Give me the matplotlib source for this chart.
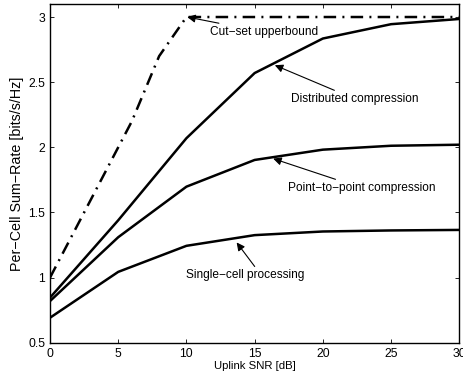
import matplotlib
matplotlib.use("Agg")
import matplotlib.pyplot as plt
import numpy as np

plt.rcParams['font.family'] = ['Liberation Sans', 'DejaVu Sans']

# data
snr_cut = [0, 2, 4, 6, 8, 10, 15, 20, 25, 30]
cut_set = [1.0, 1.4, 1.8, 2.2, 2.7, 3.0, 3.0, 3.0, 3.0, 3.0]

snr = [0, 5, 10, 15, 20, 25, 30]
distributed = [0.846, 1.44, 2.07, 2.57, 2.835, 2.945, 2.985]
point_to_point = [0.82, 1.31, 1.698, 1.903, 1.982, 2.012, 2.02]
single_cell = [0.692, 1.044, 1.244, 1.326, 1.354, 1.362, 1.366]

xticks = [0, 5, 10, 15, 20, 25, 30]
yticks = [0.5, 1, 1.5, 2, 2.5, 3]

fig = plt.figure(figsize=(4.63, 3.80), dpi=100)
ax = fig.add_axes([0.108, 0.098, 0.884, 0.8915])

ax.plot(snr_cut, cut_set, color='k', lw=1.8, linestyle=(0, (5, 2.5, 0.8, 2.5)))
ax.plot(snr, distributed, color='k', lw=1.8)
ax.plot(snr, point_to_point, color='k', lw=1.8)
ax.plot(snr, single_cell, color='k', lw=1.8)

ax.set_xlim(0, 30)
ax.set_ylim(0.5, 3.1)
ax.set_xticks(xticks)
ax.set_xticklabels([str(t) for t in xticks])
ax.set_yticks(yticks)
ax.set_yticklabels(['0.5', '1', '1.5', '2', '2.5', '3'])
ax.tick_params(direction='in', top=True, right=True, labelsize=8.8, length=3, width=0.6)
for s in ax.spines.values():
    s.set_linewidth(1.0)

ax.set_xlabel('Uplink SNR [dB]', fontsize=8.2, labelpad=1)
ax.set_ylabel('Per\u2212Cell Sum\u2212Rate [bits/s/Hz]', fontsize=10.3, labelpad=3)

fs = 8.6
arrow = dict(arrowstyle='-|>', color='k', lw=0.8, mutation_scale=12,
             shrinkA=0, shrinkB=0)
ax.annotate('Cut\u2212set upperbound', xy=(10.06, 3.0), xytext=(11.7, 2.885),
            fontsize=fs, ha='left', va='center', arrowprops=arrow)
ax.annotate('Distributed compression', xy=(16.48, 2.63), xytext=(17.7, 2.37),
            fontsize=fs, ha='left', va='center', arrowprops=arrow)
ax.annotate('Point\u2212to\u2212point compression', xy=(16.36, 1.913), xytext=(17.46, 1.687),
            fontsize=fs, ha='left', va='center', arrowprops=arrow)
ax.annotate('Single\u2212cell processing', xy=(13.68, 1.27), xytext=(9.95, 1.018),
            fontsize=fs, ha='left', va='center',
            arrowprops=dict(arrow, relpos=(0.6, 1.0)))

fig.savefig('out.png', dpi=100)
